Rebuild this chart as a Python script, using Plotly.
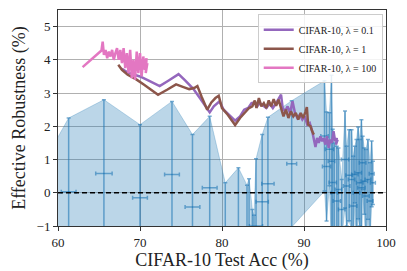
import plotly.graph_objects as go

# --- blue error-bar points (x, y, xerr, yerr) ---
pt_x = [58.1, 61.3, 65.6, 70.0, 73.9, 76.4, 78.5, 80.4, 82.0, 83.05, 83.3, 83.7, 83.9, 84.15, 84.9, 85.6, 88.5,
        92.5, 92.75, 93.1, 93.35, 93.5, 93.7, 94.0, 94.2, 94.6, 95.0, 95.2, 95.5, 95.8, 96.0, 96.2, 96.4, 96.6,
        96.8, 97.0, 97.15, 97.35, 97.55, 97.8, 98.05, 98.25, 98.4]
pt_y = [-1.3, 0.03, 0.58, -0.15, 0.55, -0.43, 0.15, -1.9, -1.4, -1.92, -1.68, -2.6, -2.78, -1.0, -0.27, 0.27, 0.87,
        1.71, 0.79, 1.31, 0.95, 0.31, 0.0, -0.25, 0.1, -0.5, 1.0, 0.2, 0.53, 0.4, -0.4, 0.55, 0.0, 0.6,
        0.3, 0.15, 0.9, 0.35, -0.1, 0.4, -0.25, 0.57, 0.3]
pt_xerr = [0.9, 0.9, 1.0, 0.9, 0.9, 0.9, 0.9, 0.9, 0.9, 0.8, 0.8, 0.8, 0.8, 0.8, 0.75, 0.75, 0.6,
           0.45, 0.5, 0.5, 0.4, 0.45, 0.4, 0.45, 0.4, 0.4, 0.45, 0.4, 0.4, 0.4, 0.45, 0.4, 0.4, 0.4,
           0.4, 0.45, 0.4, 0.4, 0.4, 0.35, 0.35, 0.3, 0.3]
pt_yerr = [2.15, 2.22, 2.22, 2.20, 2.20, 2.18, 2.15, 2.2, 2.15, 2.15, 2.1, 2.1, 2.1, 2.02, 2.02, 2.0, 1.9,
           1.66, 1.64, 1.1, 2.59, 1.6, 1.5, 1.65, 1.25, 0.9, 1.46, 1.2, 1.37, 1.5, 1.5, 0.85, 1.6, 1.38,
           1.3, 2.05, 0.8, 1.0, 1.4, 1.2, 1.15, 0.99, 0.65]

# --- lambda = 0.1 (purple) ---
p01_x = [67.8, 68.5, 69.3, 70.0, 71.0, 72.4, 73.5, 74.7, 75.5, 76.5, 77.3, 78.0, 78.5, 79.0, 79.7, 80.2, 80.8,
         81.6, 82.2, 82.7, 83.2, 83.6, 84.0, 84.3, 84.6, 85.0, 85.4, 85.8, 86.2, 86.6, 87.0, 87.2, 87.4, 87.7,
         88.0, 88.3, 88.6, 88.9, 89.2, 89.5, 89.8, 90.1, 90.4, 90.7, 91.0, 91.2, 91.4, 91.6, 91.8, 92.0, 92.2,
         92.4, 92.6, 92.8, 93.0, 93.2, 93.4, 93.6, 93.8, 94.0, 93.9, 94.1]
p01_y = [3.73, 3.62, 3.55, 3.5, 3.38, 3.21, 3.38, 3.57, 3.38, 3.13, 2.85, 2.6, 2.42, 2.6, 2.75, 2.5, 2.35,
         2.17, 2.3, 2.5, 2.55, 2.7, 2.72, 2.6, 2.7, 2.62, 2.55, 2.68, 2.55, 2.7, 2.9, 2.95, 2.55, 2.45,
         2.6, 2.4, 2.75, 2.4, 2.25, 2.35, 2.2, 2.3, 2.05, 2.1, 1.85, 1.55, 1.38, 1.65, 1.5, 1.7, 1.55,
         1.65, 1.45, 1.7, 1.35, 1.6, 1.5, 1.85, 1.55, 1.65, 1.45, 1.6]

# --- lambda = 1 (brown) ---
p1_x = [67.35, 67.8, 68.5, 69.5, 70.5, 71.4, 72.2, 73.3, 74.4, 75.3, 76.0, 76.6, 77.0, 77.5, 78.2, 78.7, 79.2,
        79.6, 80.0, 80.7, 81.6, 82.2, 82.8, 83.3, 83.7, 84.0, 84.2, 84.5, 84.8, 85.1, 85.4, 85.7, 86.0, 86.3,
        86.6, 86.9, 87.2, 87.5, 87.8, 88.1, 88.4, 88.7, 89.0, 89.3, 89.6, 89.9, 90.2, 90.35, 90.5, 90.8, 91.0, 91.2]
p1_y = [3.85, 3.7, 3.55, 3.42, 3.25, 3.1, 2.95, 3.1, 3.26, 3.18, 3.12, 3.15, 3.21, 2.9, 2.5, 2.72, 2.85,
        2.92, 2.55, 2.35, 2.04, 2.25, 2.4, 2.55, 2.6, 2.78, 2.55, 2.85, 2.6, 2.7, 2.55, 2.78, 2.6, 2.82,
        2.62, 2.8, 2.55, 2.3, 2.5, 2.25, 2.45, 2.3, 2.4, 2.2, 2.4, 2.25, 2.45, 2.58, 2.05, 2.0, 1.85, 1.75]

# --- lambda = 100 (pink) ---
p100_x = [63.0, 65.3, 65.45, 65.6, 65.8, 66.0, 66.2, 66.4, 66.6, 66.8, 67.0, 67.2, 67.4, 67.6, 67.8, 68.0,
          68.2, 68.4, 68.6, 68.8, 69.0, 69.2, 69.4, 69.6, 69.8, 70.0, 70.2, 70.4, 70.6, 70.8, 70.7, 70.9]
p100_y = [3.78, 4.28, 4.55, 4.15, 4.3, 4.05, 4.25, 4.1, 4.3, 4.0, 4.2, 4.35, 4.0, 4.3, 3.9, 4.35,
          3.75, 4.2, 3.6, 4.3, 3.45, 4.0, 3.4, 4.25, 3.6, 4.2, 3.5, 4.1, 3.7, 4.05, 3.6, 3.9]

series_names = ["CIFAR-10, λ = 0.1", "CIFAR-10, λ = 1", "CIFAR-10, λ = 100"]
x_ticks = [60, 70, 80, 90, 100]
y_ticks = [-1, 0, 1, 2, 3, 4, 5]

BLUE = "31,119,180"
FONT = "Liberation Serif"

upper = [y + e for y, e in zip(pt_y, pt_yerr)]
lower = [y - e for y, e in zip(pt_y, pt_yerr)]

fig = go.Figure()
fig.add_trace(go.Scatter(x=pt_x, y=lower, mode="lines", line=dict(color=f"rgba({BLUE},0.35)", width=0.8),
                         showlegend=False, hoverinfo="skip"))
fig.add_trace(go.Scatter(x=pt_x, y=upper, mode="lines", line=dict(color=f"rgba({BLUE},0.35)", width=0.8),
                         fill="tonexty", fillcolor=f"rgba({BLUE},0.3)", showlegend=False, hoverinfo="skip"))
fig.add_trace(go.Scatter(
    x=pt_x, y=pt_y, mode="markers", marker=dict(size=1, color=f"rgba({BLUE},0.6)"),
    error_x=dict(type="data", array=pt_xerr, color=f"rgba({BLUE},0.6)", thickness=1.5, width=2),
    error_y=dict(type="data", array=pt_yerr, color=f"rgba({BLUE},0.6)", thickness=1.5, width=2),
    showlegend=False, hoverinfo="skip"))

fig.add_trace(go.Scatter(x=[60, 100], y=[0, 0], mode="lines",
                         line=dict(color="black", width=1.5, dash="5px,3px"), showlegend=False))

for xs, ys, name, col in [(p01_x, p01_y, series_names[0], "#9467bd"),
                          (p1_x, p1_y, series_names[1], "#8c564b"),
                          (p100_x, p100_y, series_names[2], "#e377c2")]:
    fig.add_trace(go.Scatter(x=xs, y=ys, mode="lines", name=name, line=dict(color=col, width=2.5)))

axis_common = dict(showline=True, mirror=True, linecolor="#333", linewidth=1, ticks="outside", ticklen=4,
                   tickcolor="#333", showgrid=True, gridcolor="#b0b0b0", gridwidth=1, zeroline=False,
                   automargin=False, tickfont=dict(family=FONT, size=13, color="#222"))
fig.update_xaxes(range=[60, 100], tickvals=x_ticks,
                 title=dict(text="CIFAR-10 Test Acc (%)", font=dict(family=FONT, size=18, color="#222"), standoff=6),
                 **axis_common)
fig.update_yaxes(range=[-1, 5.5], tickvals=y_ticks, ticktext=[("−1" if v < 0 else str(v)) for v in y_ticks],
                 title=dict(text="Effective Robustness (%)", font=dict(family=FONT, size=18, color="#222"), standoff=6),
                 **axis_common)

# page body has an 8px default margin, so the figure is sized and offset to compensate
fig.update_layout(
    width=399, height=263, margin=dict(l=50, r=21, t=2, b=45),
    plot_bgcolor="white", paper_bgcolor="white",
    legend=dict(x=0.99, y=0.98, xanchor="right", yanchor="top", bgcolor="rgba(255,255,255,0.85)",
                bordercolor="#cccccc", borderwidth=1, font=dict(family=FONT, size=10, color="#222"),
                tracegroupgap=0, itemwidth=30, traceorder="normal"),
)
fig.write_html("out.html")
